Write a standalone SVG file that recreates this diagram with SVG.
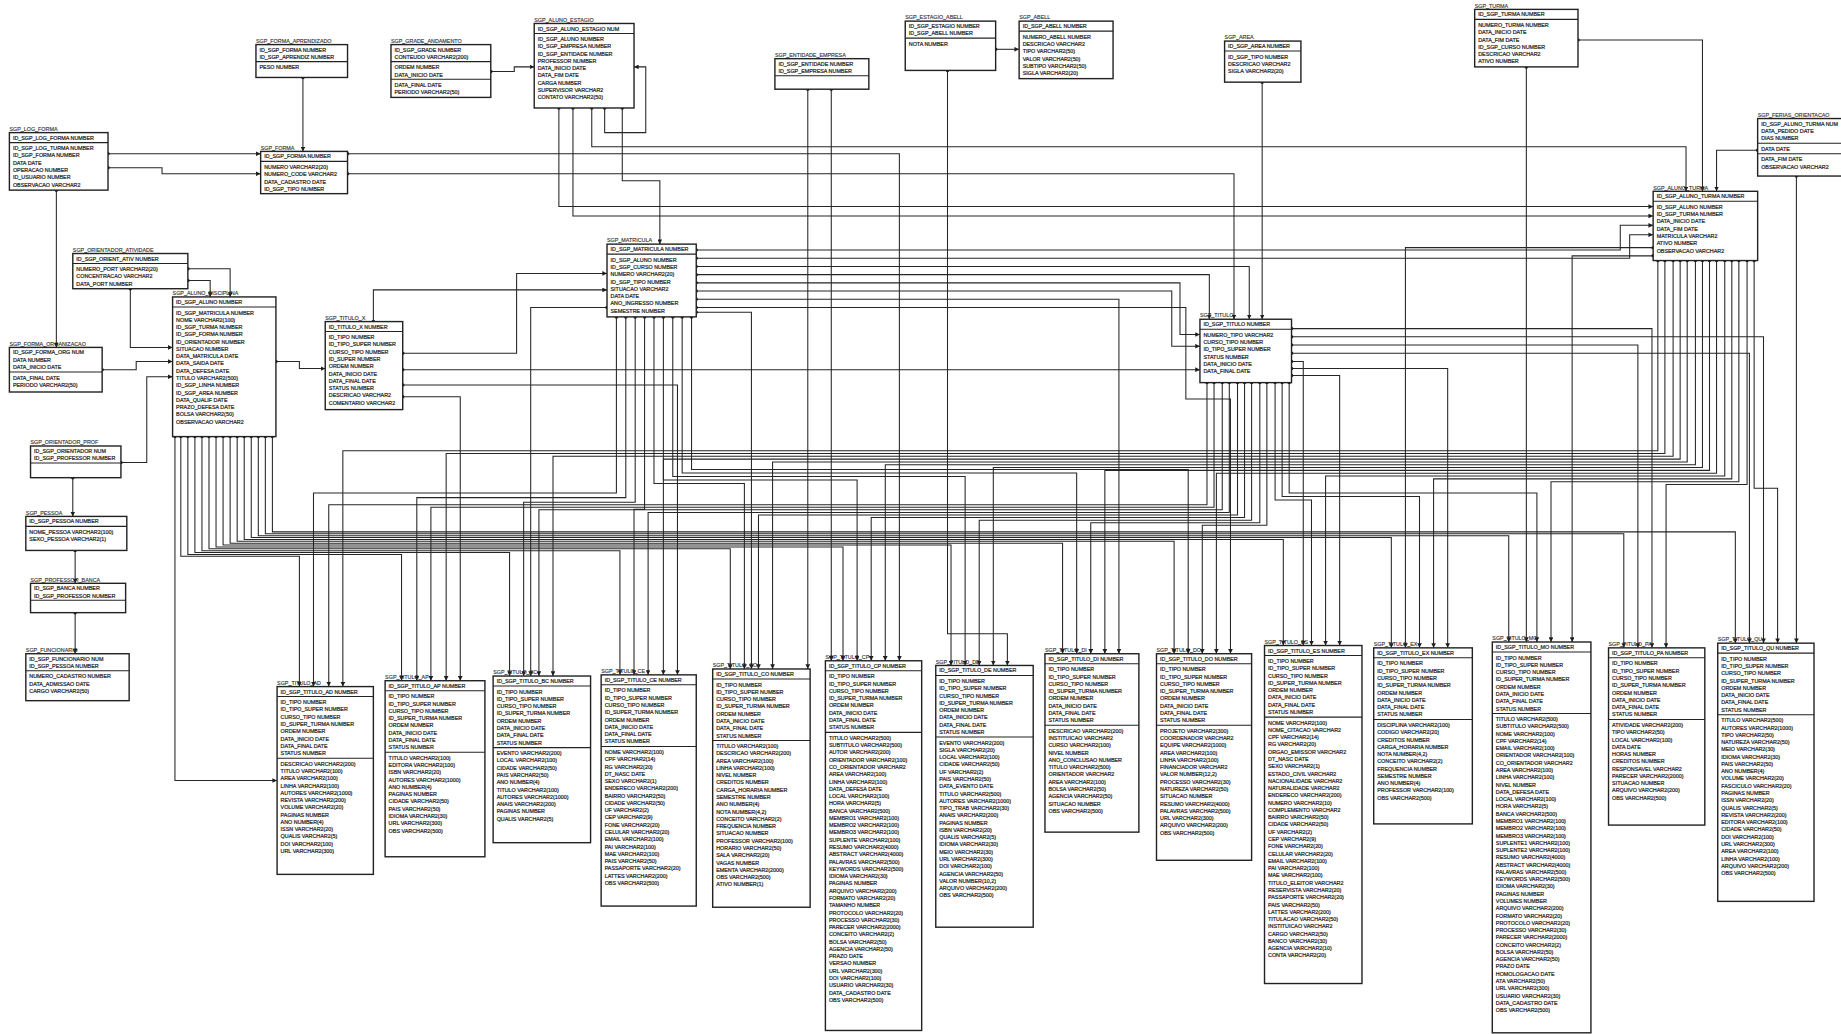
<svg xmlns="http://www.w3.org/2000/svg" width="1841" height="1034" viewBox="0 0 1841 1034">
<defs>
<style>
.bx{fill:#fff;stroke:#222;stroke-width:1.2}
.sp{stroke:#222;stroke-width:.9}
.t{font-family:"Liberation Sans",Arial,sans-serif;font-size:4.6px;fill:#333;stroke:#333;stroke-width:.12}
.r{font-family:"Liberation Sans",Arial,sans-serif;font-size:4.6px;fill:#1e1e1e;stroke:#1e1e1e;stroke-width:.18}
#connectors path{fill:none;stroke:#262626;stroke-width:.9;marker-start:url(#dot);marker-end:url(#arr)}
</style>
<marker id="dot" markerUnits="userSpaceOnUse" markerWidth="4" markerHeight="4" refX="2" refY="2"><circle cx="2" cy="2" r="1.5" fill="#1e1e1e"/></marker>
<marker id="arr" markerUnits="userSpaceOnUse" markerWidth="4" markerHeight="4" refX="4" refY="2" orient="auto"><path d="M0,0L4,2L0,4z" fill="#1e1e1e"/></marker>
</defs>
<rect width="1841" height="1034" fill="#fff"/>
<g transform="scale(1.17411 1.17366)">
<g id="connectors">
<path d="M258 66V129"/>
<path d="M92 131H222"/>
<path d="M296 131H766V563"/>
<path d="M92 143H138V148H222"/>
<path d="M296 148H1051V272"/>
<path d="M418 61H438V57H455"/>
<path d="M515 92V113H550V57H540"/>
<path d="M848 42H868"/>
<path d="M1344 34H1450V163"/>
<path d="M1497 128H1462V163"/>
<path d="M504 92V125H1436V163"/>
<path d="M476 92V176H1408"/>
<path d="M488 92V184H1408"/>
<path d="M530 92V154H562V208"/>
<path d="M688 76V570"/>
<path d="M708 76V563"/>
<path d="M807 60V540H858V567"/>
<path d="M1075 70V272"/>
<path d="M1300 57V547"/>
<path d="M1530 150V548"/>
<path d="M48 162V296"/>
<path d="M160 229H196V253"/>
<path d="M160 239H179V253"/>
<path d="M111 246V296H147"/>
<path d="M87 315H116V308H147"/>
<path d="M103 394H125V321H147"/>
<path d="M62 407V440"/>
<path d="M64 469V497"/>
<path d="M64 522V557"/>
<path d="M235 308H255V314H277"/>
<path d="M318 274V247H517"/>
<path d="M343 301H440V233H517"/>
<path d="M517 262H452V576"/>
<path d="M343 315H1022"/>
<path d="M343 328H577V575"/>
<path d="M343 338H392V580"/>
<path d="M593 213H1380V192H1408"/>
<path d="M593 220H1388V200H1408"/>
<path d="M593 227H1064V272"/>
<path d="M593 234H1030V272"/>
<path d="M593 241H1005V285H1022"/>
<path d="M593 248H998V295H1022"/>
<path d="M593 255H953V557"/>
<path d="M593 262H1010V340H1048V557"/>
<path d="M593 266H640V570"/>
<path d="M1100 280H1407V552"/>
<path d="M1100 287H1502V548"/>
<path d="M1100 294H1395V552"/>
<path d="M1100 301H1490V548"/>
<path d="M1100 308H1110V550"/>
<path d="M1100 314H1233V552"/>
<path d="M1100 320H1141V550"/>
<path d="M1408 211H1197V552"/>
<path d="M1408 218H1339V547"/>
<path d="M154 372V474H255V585"/>
<path d="M160 372V472.4H342V580"/>
<path d="M166 372V470.8H434V576"/>
<path d="M172 372V469.2H528V575"/>
<path d="M178 372V467.6H622V570"/>
<path d="M184 372V466H718V563"/>
<path d="M190 372V464.4H810V567"/>
<path d="M196 372V462.8H905V557"/>
<path d="M202 372V461.2H1000V557"/>
<path d="M208 372V459.6H1093V550"/>
<path d="M214 372V458H1185V552"/>
<path d="M220 372V456.4H1285V547"/>
<path d="M226 372V454.8H1383V552"/>
<path d="M232 372V453.2H1478V548"/>
<path d="M149 372V665H236"/>
<path d="M525 270V420H267V585"/>
<path d="M533 270V424H355V580"/>
<path d="M541 270V428H446V576"/>
<path d="M549 270V434H540V575"/>
<path d="M557 270V412H634V570"/>
<path d="M565 270V409H730V563"/>
<path d="M573 270V406H822V567"/>
<path d="M581 270V403H917V557"/>
<path d="M589 270V400H1012V557"/>
<path d="M1028 326V430H280V585"/>
<path d="M1034 326V432.2H367V580"/>
<path d="M1041 326V434.4H459V576"/>
<path d="M1047 326V436.6H552V575"/>
<path d="M1054 326V438.8H646V570"/>
<path d="M1060 326V441H742V563"/>
<path d="M1066 326V443.2H834V567"/>
<path d="M1073 326V445.4H929V557"/>
<path d="M1079 326V447.6H1024V557"/>
<path d="M1086 326V426H1117V550"/>
<path d="M1092 326V423H1209V552"/>
<path d="M1098 326V420H1309V547"/>
<path d="M1412 222V384H292V585"/>
<path d="M1418 222V386.4H380V580"/>
<path d="M1425 222V388.8H471V576"/>
<path d="M1431 222V391.2H565V575"/>
<path d="M1437 222V393.6H658V570"/>
<path d="M1444 222V396H754V563"/>
<path d="M1450 222V398.4H846V567"/>
<path d="M1456 222V400.8H941V557"/>
<path d="M1462 222V403.2H1036V557"/>
<path d="M1469 222V405.6H1129V550"/>
<path d="M1475 222V408H1221V552"/>
<path d="M1481 222V410.4H1321V547"/>
<path d="M1488 222V412.8H1419V552"/>
<path d="M1494 222V416H1514V548"/>
</g>

<g id="sgp-forma-aprendizado" transform="translate(218,38)"><text class="t" y="-1.5">SGP_FORMA_APRENDIZADO</text><rect class="bx" width="78" height="28"/><line class="sp" x1="0" y1="14.5" x2="78" y2="14.5"/><text class="r"><tspan x="3" y="6">ID_SGP_FORMA NUMBER</tspan><tspan x="3" dy="6.2">ID_SGP_APRENDIZ NUMBER</tspan><tspan x="3" y="21">PESO NUMBER</tspan></text></g>
<g id="sgp-forma" transform="translate(222,129)"><text class="t" y="-1.5">SGP_FORMA</text><rect class="bx" width="74" height="36"/><line class="sp" x1="0" y1="8.5" x2="74" y2="8.5"/><text class="r"><tspan x="3" y="6">ID_SGP_FORMA NUMBER</tspan><tspan x="3" y="15">NUMERO VARCHAR2(20)</tspan><tspan x="3" dy="6.2">NUMERO_CODE VARCHAR2</tspan><tspan x="3" dy="6.2">DATA_CADASTRO DATE</tspan><tspan x="3" dy="6.2">ID_SGP_TIPO NUMBER</tspan></text></g>
<g id="sgp-log-forma" transform="translate(8,113)"><text class="t" y="-1.5">SGP_LOG_FORMA</text><rect class="bx" width="84" height="49"/><line class="sp" x1="0" y1="8.5" x2="84" y2="8.5"/><text class="r"><tspan x="3" y="6">ID_SGP_LOG_FORMA NUMBER</tspan><tspan x="3" y="15">ID_SGP_LOG_TURMA NUMBER</tspan><tspan x="3" dy="6.2">ID_SGP_FORMA NUMBER</tspan><tspan x="3" dy="6.2">DATA DATE</tspan><tspan x="3" dy="6.2">OPERACAO NUMBER</tspan><tspan x="3" dy="6.2">ID_USUARIO NUMBER</tspan><tspan x="3" dy="6.2">OBSERVACAO VARCHAR2</tspan></text></g>
<g id="sgp-grade-andamento" transform="translate(333,38)"><text class="t" y="-1.5">SGP_GRADE_ANDAMENTO</text><rect class="bx" width="85" height="45"/><line class="sp" x1="0" y1="14.5" x2="85" y2="14.5"/><line class="sp" x1="0" y1="29.5" x2="85" y2="29.5"/><text class="r"><tspan x="3" y="6">ID_SGP_GRADE NUMBER</tspan><tspan x="3" dy="6.2">CONTEUDO VARCHAR2(200)</tspan><tspan x="3" y="21">ORDEM NUMBER</tspan><tspan x="3" dy="6.2">DATA_INICIO DATE</tspan><tspan x="3" y="36">DATA_FINAL DATE</tspan><tspan x="3" dy="6.2">PERIODO VARCHAR2(50)</tspan></text></g>
<g id="sgp-aluno-estagio" transform="translate(455,20)"><text class="t" y="-1.5">SGP_ALUNO_ESTAGIO</text><rect class="bx" width="85" height="72"/><line class="sp" x1="0" y1="8.5" x2="85" y2="8.5"/><text class="r"><tspan x="3" y="6">ID_SGP_ALUNO_ESTAGIO NUM</tspan><tspan x="3" y="15">ID_SGP_ALUNO NUMBER</tspan><tspan x="3" dy="6.2">ID_SGP_EMPRESA NUMBER</tspan><tspan x="3" dy="6.2">ID_SGP_ENTIDADE NUMBER</tspan><tspan x="3" dy="6.2">PROFESSOR NUMBER</tspan><tspan x="3" dy="6.2">DATA_INICIO DATE</tspan><tspan x="3" dy="6.2">DATA_FIM DATE</tspan><tspan x="3" dy="6.2">CARGA NUMBER</tspan><tspan x="3" dy="6.2">SUPERVISOR VARCHAR2</tspan><tspan x="3" dy="6.2">CONTATO VARCHAR2(50)</tspan></text></g>
<g id="sgp-entidade-empresa" transform="translate(660,50)"><text class="t" y="-1.5">SGP_ENTIDADE_EMPRESA</text><rect class="bx" width="80" height="26"/><line class="sp" x1="0" y1="14.5" x2="80" y2="14.5"/><text class="r"><tspan x="3" y="6">ID_SGP_ENTIDADE NUMBER</tspan><tspan x="3" dy="6.2">ID_SGP_EMPRESA NUMBER</tspan></text></g>
<g id="sgp-estagio-abell" transform="translate(771,18)"><text class="t" y="-1.5">SGP_ESTAGIO_ABELL</text><rect class="bx" width="77" height="42"/><line class="sp" x1="0" y1="14.5" x2="77" y2="14.5"/><text class="r"><tspan x="3" y="6">ID_SGP_ESTAGIO NUMBER</tspan><tspan x="3" dy="6.2">ID_SGP_ABELL NUMBER</tspan><tspan x="3" y="21">NOTA NUMBER</tspan></text></g>
<g id="sgp-abell" transform="translate(868,18)"><text class="t" y="-1.5">SGP_ABELL</text><rect class="bx" width="80" height="49"/><line class="sp" x1="0" y1="8.5" x2="80" y2="8.5"/><text class="r"><tspan x="3" y="6">ID_SGP_ABELL NUMBER</tspan><tspan x="3" y="15">NUMERO_ABELL NUMBER</tspan><tspan x="3" dy="6.2">DESCRICAO VARCHAR2</tspan><tspan x="3" dy="6.2">TIPO VARCHAR2(50)</tspan><tspan x="3" dy="6.2">VALOR VARCHAR2(50)</tspan><tspan x="3" dy="6.2">SUBTIPO VARCHAR2(50)</tspan><tspan x="3" dy="6.2">SIGLA VARCHAR2(20)</tspan></text></g>
<g id="sgp-area" transform="translate(1043,35)"><text class="t" y="-1.5">SGP_AREA</text><rect class="bx" width="65" height="35"/><line class="sp" x1="0" y1="8.5" x2="65" y2="8.5"/><text class="r"><tspan x="3" y="6">ID_SGP_AREA NUMBER</tspan><tspan x="3" y="15">ID_SGP_TIPO NUMBER</tspan><tspan x="3" dy="6.2">DESCRICAO VARCHAR2</tspan><tspan x="3" dy="6.2">SIGLA VARCHAR2(20)</tspan></text></g>
<g id="sgp-turma" transform="translate(1256,8)"><text class="t" y="-1.5">SGP_TURMA</text><rect class="bx" width="88" height="49"/><line class="sp" x1="0" y1="8.5" x2="88" y2="8.5"/><text class="r"><tspan x="3" y="6">ID_SGP_TURMA NUMBER</tspan><tspan x="3" y="15">NUMERO_TURMA NUMBER</tspan><tspan x="3" dy="6.2">DATA_INICIO DATE</tspan><tspan x="3" dy="6.2">DATA_FIM DATE</tspan><tspan x="3" dy="6.2">ID_SGP_CURSO NUMBER</tspan><tspan x="3" dy="6.2">DESCRICAO VARCHAR2</tspan><tspan x="3" dy="6.2">ATIVO NUMBER</tspan></text></g>
<g id="sgp-ferias-orientacao" transform="translate(1497,101)"><text class="t" y="-1.5">SGP_FERIAS_ORIENTACAO</text><rect class="bx" width="80" height="49"/><line class="sp" x1="0" y1="21" x2="80" y2="21"/><line class="sp" x1="0" y1="30" x2="80" y2="30"/><text class="r"><tspan x="3" y="6">ID_SGP_ALUNO_TURMA NUM</tspan><tspan x="3" dy="6.2">DATA_PEDIDO DATE</tspan><tspan x="3" dy="6.2">DIAS NUMBER</tspan><tspan x="3" y="27.4">DATA DATE</tspan><tspan x="3" y="36.4">DATA_FIM DATE</tspan><tspan x="3" dy="6.2">OBSERVACAO VARCHAR2</tspan></text></g>
<g id="sgp-aluno-turma" transform="translate(1408,163)"><text class="t" y="-1.5">SGP_ALUNO_TURMA</text><rect class="bx" width="89" height="59"/><line class="sp" x1="0" y1="8.5" x2="89" y2="8.5"/><text class="r"><tspan x="3" y="6">ID_SGP_ALUNO_TURMA NUMBER</tspan><tspan x="3" y="15">ID_SGP_ALUNO NUMBER</tspan><tspan x="3" dy="6.2">ID_SGP_TURMA NUMBER</tspan><tspan x="3" dy="6.2">DATA_INICIO DATE</tspan><tspan x="3" dy="6.2">DATA_FIM DATE</tspan><tspan x="3" dy="6.2">MATRICULA VARCHAR2</tspan><tspan x="3" dy="6.2">ATIVO NUMBER</tspan><tspan x="3" dy="6.2">OBSERVACAO VARCHAR2</tspan></text></g>
<g id="sgp-orientador-atividade" transform="translate(62,216)"><text class="t" y="-1.5">SGP_ORIENTADOR_ATIVIDADE</text><rect class="bx" width="98" height="30"/><line class="sp" x1="0" y1="8.5" x2="98" y2="8.5"/><text class="r"><tspan x="3" y="6">ID_SGP_ORIENT_ATIV NUMBER</tspan><tspan x="3" y="15">NUMERO_PORT VARCHAR2(20)</tspan><tspan x="3" dy="6.2">CONCENTRACAO VARCHAR2</tspan><tspan x="3" dy="6.2">DATA_PORT NUMBER</tspan></text></g>
<g id="sgp-forma-organizacao" transform="translate(8,296)"><text class="t" y="-1.5">SGP_FORMA_ORGANIZACAO</text><rect class="bx" width="79" height="38"/><line class="sp" x1="0" y1="21" x2="79" y2="21"/><text class="r"><tspan x="3" y="6">ID_SGP_FORMA_ORG NUM</tspan><tspan x="3" dy="6.2">DATA NUMBER</tspan><tspan x="3" dy="6.2">DATA_INICIO DATE</tspan><tspan x="3" y="27.4">DATA_FINAL DATE</tspan><tspan x="3" dy="6.2">PERIODO VARCHAR2(50)</tspan></text></g>
<g id="sgp-aluno-disciplina" transform="translate(147,253)"><text class="t" y="-1.5">SGP_ALUNO_DISCIPLINA</text><rect class="bx" width="88" height="119"/><line class="sp" x1="0" y1="8.5" x2="88" y2="8.5"/><text class="r"><tspan x="3" y="6">ID_SGP_ALUNO NUMBER</tspan><tspan x="3" y="15">ID_SGP_MATRICULA NUMBER</tspan><tspan x="3" dy="6.2">NOME VARCHAR2(100)</tspan><tspan x="3" dy="6.2">ID_SGP_TURMA NUMBER</tspan><tspan x="3" dy="6.2">ID_SGP_FORMA NUMBER</tspan><tspan x="3" dy="6.2">ID_ORIENTADOR NUMBER</tspan><tspan x="3" dy="6.2">SITUACAO NUMBER</tspan><tspan x="3" dy="6.2">DATA_MATRICULA DATE</tspan><tspan x="3" dy="6.2">DATA_SAIDA DATE</tspan><tspan x="3" dy="6.2">DATA_DEFESA DATE</tspan><tspan x="3" dy="6.2">TITULO VARCHAR2(500)</tspan><tspan x="3" dy="6.2">ID_SGP_LINHA NUMBER</tspan><tspan x="3" dy="6.2">ID_SGP_AREA NUMBER</tspan><tspan x="3" dy="6.2">DATA_QUALIF DATE</tspan><tspan x="3" dy="6.2">PRAZO_DEFESA DATE</tspan><tspan x="3" dy="6.2">BOLSA VARCHAR2(50)</tspan><tspan x="3" dy="6.2">OBSERVACAO VARCHAR2</tspan></text></g>
<g id="sgp-titulo-x" transform="translate(277,274)"><text class="t" y="-1.5">SGP_TITULO_X</text><rect class="bx" width="66" height="75"/><line class="sp" x1="0" y1="8.5" x2="66" y2="8.5"/><text class="r"><tspan x="3" y="6">ID_TITULO_X NUMBER</tspan><tspan x="3" y="15">ID_TIPO NUMBER</tspan><tspan x="3" dy="6.2">ID_TIPO_SUPER NUMBER</tspan><tspan x="3" dy="6.2">CURSO_TIPO NUMBER</tspan><tspan x="3" dy="6.2">ID_SUPER NUMBER</tspan><tspan x="3" dy="6.2">ORDEM NUMBER</tspan><tspan x="3" dy="6.2">DATA_INICIO DATE</tspan><tspan x="3" dy="6.2">DATA_FINAL DATE</tspan><tspan x="3" dy="6.2">STATUS NUMBER</tspan><tspan x="3" dy="6.2">DESCRICAO VARCHAR2</tspan><tspan x="3" dy="6.2">COMENTARIO VARCHAR2</tspan></text></g>
<g id="sgp-matricula" transform="translate(517,208)"><text class="t" y="-1.5">SGP_MATRICULA</text><rect class="bx" width="76" height="62"/><line class="sp" x1="0" y1="8.5" x2="76" y2="8.5"/><text class="r"><tspan x="3" y="6">ID_SGP_MATRICULA NUMBER</tspan><tspan x="3" y="15">ID_SGP_ALUNO NUMBER</tspan><tspan x="3" dy="6.2">ID_SGP_CURSO NUMBER</tspan><tspan x="3" dy="6.2">NUMERO VARCHAR2(20)</tspan><tspan x="3" dy="6.2">ID_SGP_TIPO NUMBER</tspan><tspan x="3" dy="6.2">SITUACAO VARCHAR2</tspan><tspan x="3" dy="6.2">DATA DATE</tspan><tspan x="3" dy="6.2">ANO_INGRESSO NUMBER</tspan><tspan x="3" dy="6.2">SEMESTRE NUMBER</tspan></text></g>
<g id="sgp-titulo" transform="translate(1022,272)"><text class="t" y="-1.5">SGP_TITULO</text><rect class="bx" width="78" height="54"/><line class="sp" x1="0" y1="8.5" x2="78" y2="8.5"/><text class="r"><tspan x="3" y="6">ID_SGP_TITULO NUMBER</tspan><tspan x="3" y="15">NUMERO_TIPO VARCHAR2</tspan><tspan x="3" dy="6.2">CURSO_TIPO NUMBER</tspan><tspan x="3" dy="6.2">ID_TIPO_SUPER NUMBER</tspan><tspan x="3" dy="6.2">STATUS NUMBER</tspan><tspan x="3" dy="6.2">DATA_INICIO DATE</tspan><tspan x="3" dy="6.2">DATA_FINAL DATE</tspan></text></g>
<g id="sgp-orientador-prof" transform="translate(26,380)"><text class="t" y="-1.5">SGP_ORIENTADOR_PROF</text><rect class="bx" width="77" height="27"/><line class="sp" x1="0" y1="14.5" x2="77" y2="14.5"/><text class="r"><tspan x="3" y="6">ID_SGP_ORIENTADOR NUM</tspan><tspan x="3" dy="6.2">ID_SGP_PROFESSOR NUMBER</tspan></text></g>
<g id="sgp-pessoa" transform="translate(22,440)"><text class="t" y="-1.5">SGP_PESSOA</text><rect class="bx" width="86" height="29"/><line class="sp" x1="0" y1="8.5" x2="86" y2="8.5"/><text class="r"><tspan x="3" y="6">ID_SGP_PESSOA NUMBER</tspan><tspan x="3" y="15">NOME_PESSOA VARCHAR2(100)</tspan><tspan x="3" dy="6.2">SEXO_PESSOA VARCHAR2(1)</tspan></text></g>
<g id="sgp-professor-banca" transform="translate(26,497)"><text class="t" y="-1.5">SGP_PROFESSOR_BANCA</text><rect class="bx" width="81" height="25"/><line class="sp" x1="0" y1="14.5" x2="81" y2="14.5"/><text class="r"><tspan x="3" y="6">ID_SGP_BANCA NUMBER</tspan><tspan x="3" dy="6.2">ID_SGP_PROFESSOR NUMBER</tspan></text></g>
<g id="sgp-funcionario" transform="translate(22,557)"><text class="t" y="-1.5">SGP_FUNCIONARIO</text><rect class="bx" width="88" height="40"/><line class="sp" x1="0" y1="14.5" x2="88" y2="14.5"/><text class="r"><tspan x="3" y="6">ID_SGP_FUNCIONARIO NUM</tspan><tspan x="3" dy="6.2">ID_SGP_PESSOA NUMBER</tspan><tspan x="3" y="21">NUMERO_CADASTRO NUMBER</tspan><tspan x="3" dy="6.2">DATA_ADMISSAO DATE</tspan><tspan x="3" dy="6.2">CARGO VARCHAR2(50)</tspan></text></g>

<g id="sgp-titulo-ad" transform="translate(236,585)"><text class="t" y="-1.5">SGP_TITULO_AD</text><rect class="bx" width="82" height="160"/><line class="sp" x1="0" y1="8.5" x2="82" y2="8.5"/><line class="sp" x1="0" y1="61" x2="82" y2="61"/><text class="r"><tspan x="3" y="6">ID_SGP_TITULO_AD NUMBER</tspan><tspan x="3" y="15">ID_TIPO NUMBER</tspan><tspan x="3" dy="6.2">ID_TIPO_SUPER NUMBER</tspan><tspan x="3" dy="6.2">CURSO_TIPO NUMBER</tspan><tspan x="3" dy="6.2">ID_SUPER_TURMA NUMBER</tspan><tspan x="3" dy="6.2">ORDEM NUMBER</tspan><tspan x="3" dy="6.2">DATA_INICIO DATE</tspan><tspan x="3" dy="6.2">DATA_FINAL DATE</tspan><tspan x="3" dy="6.2">STATUS NUMBER</tspan><tspan x="3" y="67.4">DESCRICAO VARCHAR2(200)</tspan><tspan x="3" dy="6.2">TITULO VARCHAR2(100)</tspan><tspan x="3" dy="6.2">AREA VARCHAR2(100)</tspan><tspan x="3" dy="6.2">LINHA VARCHAR2(100)</tspan><tspan x="3" dy="6.2">AUTORES VARCHAR2(1000)</tspan><tspan x="3" dy="6.2">REVISTA VARCHAR2(200)</tspan><tspan x="3" dy="6.2">VOLUME VARCHAR2(20)</tspan><tspan x="3" dy="6.2">PAGINAS NUMBER</tspan><tspan x="3" dy="6.2">ANO NUMBER(4)</tspan><tspan x="3" dy="6.2">ISSN VARCHAR2(20)</tspan><tspan x="3" dy="6.2">QUALIS VARCHAR2(5)</tspan><tspan x="3" dy="6.2">DOI VARCHAR2(100)</tspan><tspan x="3" dy="6.2">URL VARCHAR2(300)</tspan></text></g>
<g id="sgp-titulo-ap" transform="translate(328,580)"><text class="t" y="-1.5">SGP_TITULO_AP</text><rect class="bx" width="85" height="150"/><line class="sp" x1="0" y1="8.5" x2="85" y2="8.5"/><line class="sp" x1="0" y1="61" x2="85" y2="61"/><text class="r"><tspan x="3" y="6">ID_SGP_TITULO_AP NUMBER</tspan><tspan x="3" y="15">ID_TIPO NUMBER</tspan><tspan x="3" dy="6.2">ID_TIPO_SUPER NUMBER</tspan><tspan x="3" dy="6.2">CURSO_TIPO NUMBER</tspan><tspan x="3" dy="6.2">ID_SUPER_TURMA NUMBER</tspan><tspan x="3" dy="6.2">ORDEM NUMBER</tspan><tspan x="3" dy="6.2">DATA_INICIO DATE</tspan><tspan x="3" dy="6.2">DATA_FINAL DATE</tspan><tspan x="3" dy="6.2">STATUS NUMBER</tspan><tspan x="3" y="67.4">TITULO VARCHAR2(100)</tspan><tspan x="3" dy="6.2">EDITORA VARCHAR2(100)</tspan><tspan x="3" dy="6.2">ISBN VARCHAR2(20)</tspan><tspan x="3" dy="6.2">AUTORES VARCHAR2(1000)</tspan><tspan x="3" dy="6.2">ANO NUMBER(4)</tspan><tspan x="3" dy="6.2">PAGINAS NUMBER</tspan><tspan x="3" dy="6.2">CIDADE VARCHAR2(50)</tspan><tspan x="3" dy="6.2">PAIS VARCHAR2(50)</tspan><tspan x="3" dy="6.2">IDIOMA VARCHAR2(30)</tspan><tspan x="3" dy="6.2">URL VARCHAR2(300)</tspan><tspan x="3" dy="6.2">OBS VARCHAR2(500)</tspan></text></g>
<g id="sgp-titulo-bc" transform="translate(420,576)"><text class="t" y="-1.5">SGP_TITULO_BC</text><rect class="bx" width="83" height="142"/><line class="sp" x1="0" y1="8.5" x2="83" y2="8.5"/><line class="sp" x1="0" y1="61" x2="83" y2="61"/><text class="r"><tspan x="3" y="6">ID_SGP_TITULO_BC NUMBER</tspan><tspan x="3" y="15">ID_TIPO NUMBER</tspan><tspan x="3" dy="6.2">ID_TIPO_SUPER NUMBER</tspan><tspan x="3" dy="6.2">CURSO_TIPO NUMBER</tspan><tspan x="3" dy="6.2">ID_SUPER_TURMA NUMBER</tspan><tspan x="3" dy="6.2">ORDEM NUMBER</tspan><tspan x="3" dy="6.2">DATA_INICIO DATE</tspan><tspan x="3" dy="6.2">DATA_FINAL DATE</tspan><tspan x="3" dy="6.2">STATUS NUMBER</tspan><tspan x="3" y="67.4">EVENTO VARCHAR2(200)</tspan><tspan x="3" dy="6.2">LOCAL VARCHAR2(100)</tspan><tspan x="3" dy="6.2">CIDADE VARCHAR2(50)</tspan><tspan x="3" dy="6.2">PAIS VARCHAR2(50)</tspan><tspan x="3" dy="6.2">ANO NUMBER(4)</tspan><tspan x="3" dy="6.2">TITULO VARCHAR2(100)</tspan><tspan x="3" dy="6.2">AUTORES VARCHAR2(1000)</tspan><tspan x="3" dy="6.2">ANAIS VARCHAR2(200)</tspan><tspan x="3" dy="6.2">PAGINAS NUMBER</tspan><tspan x="3" dy="6.2">QUALIS VARCHAR2(5)</tspan></text></g>
<g id="sgp-titulo-ce" transform="translate(512,575)"><text class="t" y="-1.5">SGP_TITULO_CE</text><rect class="bx" width="81" height="197"/><line class="sp" x1="0" y1="8.5" x2="81" y2="8.5"/><line class="sp" x1="0" y1="61" x2="81" y2="61"/><text class="r"><tspan x="3" y="6">ID_SGP_TITULO_CE NUMBER</tspan><tspan x="3" y="15">ID_TIPO NUMBER</tspan><tspan x="3" dy="6.2">ID_TIPO_SUPER NUMBER</tspan><tspan x="3" dy="6.2">CURSO_TIPO NUMBER</tspan><tspan x="3" dy="6.2">ID_SUPER_TURMA NUMBER</tspan><tspan x="3" dy="6.2">ORDEM NUMBER</tspan><tspan x="3" dy="6.2">DATA_INICIO DATE</tspan><tspan x="3" dy="6.2">DATA_FINAL DATE</tspan><tspan x="3" dy="6.2">STATUS NUMBER</tspan><tspan x="3" y="67.4">NOME VARCHAR2(100)</tspan><tspan x="3" dy="6.2">CPF VARCHAR2(14)</tspan><tspan x="3" dy="6.2">RG VARCHAR2(20)</tspan><tspan x="3" dy="6.2">DT_NASC DATE</tspan><tspan x="3" dy="6.2">SEXO VARCHAR2(1)</tspan><tspan x="3" dy="6.2">ENDERECO VARCHAR2(200)</tspan><tspan x="3" dy="6.2">BAIRRO VARCHAR2(50)</tspan><tspan x="3" dy="6.2">CIDADE VARCHAR2(50)</tspan><tspan x="3" dy="6.2">UF VARCHAR2(2)</tspan><tspan x="3" dy="6.2">CEP VARCHAR2(9)</tspan><tspan x="3" dy="6.2">FONE VARCHAR2(20)</tspan><tspan x="3" dy="6.2">CELULAR VARCHAR2(20)</tspan><tspan x="3" dy="6.2">EMAIL VARCHAR2(100)</tspan><tspan x="3" dy="6.2">PAI VARCHAR2(100)</tspan><tspan x="3" dy="6.2">MAE VARCHAR2(100)</tspan><tspan x="3" dy="6.2">PAIS VARCHAR2(50)</tspan><tspan x="3" dy="6.2">PASSAPORTE VARCHAR2(20)</tspan><tspan x="3" dy="6.2">LATTES VARCHAR2(200)</tspan><tspan x="3" dy="6.2">OBS VARCHAR2(500)</tspan></text></g>
<g id="sgp-titulo-co" transform="translate(607,570)"><text class="t" y="-1.5">SGP_TITULO_CO</text><rect class="bx" width="83" height="203"/><line class="sp" x1="0" y1="8.5" x2="83" y2="8.5"/><line class="sp" x1="0" y1="61" x2="83" y2="61"/><text class="r"><tspan x="3" y="6">ID_SGP_TITULO_CO NUMBER</tspan><tspan x="3" y="15">ID_TIPO NUMBER</tspan><tspan x="3" dy="6.2">ID_TIPO_SUPER NUMBER</tspan><tspan x="3" dy="6.2">CURSO_TIPO NUMBER</tspan><tspan x="3" dy="6.2">ID_SUPER_TURMA NUMBER</tspan><tspan x="3" dy="6.2">ORDEM NUMBER</tspan><tspan x="3" dy="6.2">DATA_INICIO DATE</tspan><tspan x="3" dy="6.2">DATA_FINAL DATE</tspan><tspan x="3" dy="6.2">STATUS NUMBER</tspan><tspan x="3" y="67.4">TITULO VARCHAR2(100)</tspan><tspan x="3" dy="6.2">DESCRICAO VARCHAR2(200)</tspan><tspan x="3" dy="6.2">AREA VARCHAR2(100)</tspan><tspan x="3" dy="6.2">LINHA VARCHAR2(100)</tspan><tspan x="3" dy="6.2">NIVEL NUMBER</tspan><tspan x="3" dy="6.2">CREDITOS NUMBER</tspan><tspan x="3" dy="6.2">CARGA_HORARIA NUMBER</tspan><tspan x="3" dy="6.2">SEMESTRE NUMBER</tspan><tspan x="3" dy="6.2">ANO NUMBER(4)</tspan><tspan x="3" dy="6.2">NOTA NUMBER(4,2)</tspan><tspan x="3" dy="6.2">CONCEITO VARCHAR2(2)</tspan><tspan x="3" dy="6.2">FREQUENCIA NUMBER</tspan><tspan x="3" dy="6.2">SITUACAO NUMBER</tspan><tspan x="3" dy="6.2">PROFESSOR VARCHAR2(100)</tspan><tspan x="3" dy="6.2">HORARIO VARCHAR2(50)</tspan><tspan x="3" dy="6.2">SALA VARCHAR2(20)</tspan><tspan x="3" dy="6.2">VAGAS NUMBER</tspan><tspan x="3" dy="6.2">EMENTA VARCHAR2(2000)</tspan><tspan x="3" dy="6.2">OBS VARCHAR2(500)</tspan><tspan x="3" dy="6.2">ATIVO NUMBER(1)</tspan></text></g>
<g id="sgp-titulo-cp" transform="translate(703,563)"><text class="t" y="-1.5">SGP_TITULO_CP</text><rect class="bx" width="82" height="315"/><line class="sp" x1="0" y1="8.5" x2="82" y2="8.5"/><line class="sp" x1="0" y1="61" x2="82" y2="61"/><text class="r"><tspan x="3" y="6">ID_SGP_TITULO_CP NUMBER</tspan><tspan x="3" y="15">ID_TIPO NUMBER</tspan><tspan x="3" dy="6.2">ID_TIPO_SUPER NUMBER</tspan><tspan x="3" dy="6.2">CURSO_TIPO NUMBER</tspan><tspan x="3" dy="6.2">ID_SUPER_TURMA NUMBER</tspan><tspan x="3" dy="6.2">ORDEM NUMBER</tspan><tspan x="3" dy="6.2">DATA_INICIO DATE</tspan><tspan x="3" dy="6.2">DATA_FINAL DATE</tspan><tspan x="3" dy="6.2">STATUS NUMBER</tspan><tspan x="3" y="67.4">TITULO VARCHAR2(500)</tspan><tspan x="3" dy="6.2">SUBTITULO VARCHAR2(500)</tspan><tspan x="3" dy="6.2">AUTOR VARCHAR2(200)</tspan><tspan x="3" dy="6.2">ORIENTADOR VARCHAR2(100)</tspan><tspan x="3" dy="6.2">CO_ORIENTADOR VARCHAR2</tspan><tspan x="3" dy="6.2">AREA VARCHAR2(100)</tspan><tspan x="3" dy="6.2">LINHA VARCHAR2(100)</tspan><tspan x="3" dy="6.2">DATA_DEFESA DATE</tspan><tspan x="3" dy="6.2">LOCAL VARCHAR2(100)</tspan><tspan x="3" dy="6.2">HORA VARCHAR2(5)</tspan><tspan x="3" dy="6.2">BANCA VARCHAR2(500)</tspan><tspan x="3" dy="6.2">MEMBRO1 VARCHAR2(100)</tspan><tspan x="3" dy="6.2">MEMBRO2 VARCHAR2(100)</tspan><tspan x="3" dy="6.2">MEMBRO3 VARCHAR2(100)</tspan><tspan x="3" dy="6.2">SUPLENTE VARCHAR2(100)</tspan><tspan x="3" dy="6.2">RESUMO VARCHAR2(4000)</tspan><tspan x="3" dy="6.2">ABSTRACT VARCHAR2(4000)</tspan><tspan x="3" dy="6.2">PALAVRAS VARCHAR2(500)</tspan><tspan x="3" dy="6.2">KEYWORDS VARCHAR2(500)</tspan><tspan x="3" dy="6.2">IDIOMA VARCHAR2(30)</tspan><tspan x="3" dy="6.2">PAGINAS NUMBER</tspan><tspan x="3" dy="6.2">ARQUIVO VARCHAR2(200)</tspan><tspan x="3" dy="6.2">FORMATO VARCHAR2(20)</tspan><tspan x="3" dy="6.2">TAMANHO NUMBER</tspan><tspan x="3" dy="6.2">PROTOCOLO VARCHAR2(20)</tspan><tspan x="3" dy="6.2">PROCESSO VARCHAR2(30)</tspan><tspan x="3" dy="6.2">PARECER VARCHAR2(2000)</tspan><tspan x="3" dy="6.2">CONCEITO VARCHAR2(2)</tspan><tspan x="3" dy="6.2">BOLSA VARCHAR2(50)</tspan><tspan x="3" dy="6.2">AGENCIA VARCHAR2(50)</tspan><tspan x="3" dy="6.2">PRAZO DATE</tspan><tspan x="3" dy="6.2">VERSAO NUMBER</tspan><tspan x="3" dy="6.2">URL VARCHAR2(300)</tspan><tspan x="3" dy="6.2">DOI VARCHAR2(100)</tspan><tspan x="3" dy="6.2">USUARIO VARCHAR2(30)</tspan><tspan x="3" dy="6.2">DATA_CADASTRO DATE</tspan><tspan x="3" dy="6.2">OBS VARCHAR2(500)</tspan></text></g>
<g id="sgp-titulo-de" transform="translate(797,567)"><text class="t" y="-1.5">SGP_TITULO_DE</text><rect class="bx" width="83" height="223"/><line class="sp" x1="0" y1="8.5" x2="83" y2="8.5"/><line class="sp" x1="0" y1="61" x2="83" y2="61"/><text class="r"><tspan x="3" y="6">ID_SGP_TITULO_DE NUMBER</tspan><tspan x="3" y="15">ID_TIPO NUMBER</tspan><tspan x="3" dy="6.2">ID_TIPO_SUPER NUMBER</tspan><tspan x="3" dy="6.2">CURSO_TIPO NUMBER</tspan><tspan x="3" dy="6.2">ID_SUPER_TURMA NUMBER</tspan><tspan x="3" dy="6.2">ORDEM NUMBER</tspan><tspan x="3" dy="6.2">DATA_INICIO DATE</tspan><tspan x="3" dy="6.2">DATA_FINAL DATE</tspan><tspan x="3" dy="6.2">STATUS NUMBER</tspan><tspan x="3" y="67.4">EVENTO VARCHAR2(200)</tspan><tspan x="3" dy="6.2">SIGLA VARCHAR2(20)</tspan><tspan x="3" dy="6.2">LOCAL VARCHAR2(100)</tspan><tspan x="3" dy="6.2">CIDADE VARCHAR2(50)</tspan><tspan x="3" dy="6.2">UF VARCHAR2(2)</tspan><tspan x="3" dy="6.2">PAIS VARCHAR2(50)</tspan><tspan x="3" dy="6.2">DATA_EVENTO DATE</tspan><tspan x="3" dy="6.2">TITULO VARCHAR2(500)</tspan><tspan x="3" dy="6.2">AUTORES VARCHAR2(1000)</tspan><tspan x="3" dy="6.2">TIPO_TRAB VARCHAR2(30)</tspan><tspan x="3" dy="6.2">ANAIS VARCHAR2(200)</tspan><tspan x="3" dy="6.2">PAGINAS NUMBER</tspan><tspan x="3" dy="6.2">ISBN VARCHAR2(20)</tspan><tspan x="3" dy="6.2">QUALIS VARCHAR2(5)</tspan><tspan x="3" dy="6.2">IDIOMA VARCHAR2(30)</tspan><tspan x="3" dy="6.2">MEIO VARCHAR2(30)</tspan><tspan x="3" dy="6.2">URL VARCHAR2(300)</tspan><tspan x="3" dy="6.2">DOI VARCHAR2(100)</tspan><tspan x="3" dy="6.2">AGENCIA VARCHAR2(50)</tspan><tspan x="3" dy="6.2">VALOR NUMBER(10,2)</tspan><tspan x="3" dy="6.2">ARQUIVO VARCHAR2(200)</tspan><tspan x="3" dy="6.2">OBS VARCHAR2(500)</tspan></text></g>
<g id="sgp-titulo-di" transform="translate(890,557)"><text class="t" y="-1.5">SGP_TITULO_DI</text><rect class="bx" width="80" height="152"/><line class="sp" x1="0" y1="8.5" x2="80" y2="8.5"/><line class="sp" x1="0" y1="61" x2="80" y2="61"/><text class="r"><tspan x="3" y="6">ID_SGP_TITULO_DI NUMBER</tspan><tspan x="3" y="15">ID_TIPO NUMBER</tspan><tspan x="3" dy="6.2">ID_TIPO_SUPER NUMBER</tspan><tspan x="3" dy="6.2">CURSO_TIPO NUMBER</tspan><tspan x="3" dy="6.2">ID_SUPER_TURMA NUMBER</tspan><tspan x="3" dy="6.2">ORDEM NUMBER</tspan><tspan x="3" dy="6.2">DATA_INICIO DATE</tspan><tspan x="3" dy="6.2">DATA_FINAL DATE</tspan><tspan x="3" dy="6.2">STATUS NUMBER</tspan><tspan x="3" y="67.4">DESCRICAO VARCHAR2(200)</tspan><tspan x="3" dy="6.2">INSTITUICAO VARCHAR2</tspan><tspan x="3" dy="6.2">CURSO VARCHAR2(100)</tspan><tspan x="3" dy="6.2">NIVEL NUMBER</tspan><tspan x="3" dy="6.2">ANO_CONCLUSAO NUMBER</tspan><tspan x="3" dy="6.2">TITULO VARCHAR2(500)</tspan><tspan x="3" dy="6.2">ORIENTADOR VARCHAR2</tspan><tspan x="3" dy="6.2">AREA VARCHAR2(100)</tspan><tspan x="3" dy="6.2">BOLSA VARCHAR2(50)</tspan><tspan x="3" dy="6.2">AGENCIA VARCHAR2(50)</tspan><tspan x="3" dy="6.2">SITUACAO NUMBER</tspan><tspan x="3" dy="6.2">OBS VARCHAR2(500)</tspan></text></g>
<g id="sgp-titulo-do" transform="translate(985,557)"><text class="t" y="-1.5">SGP_TITULO_DO</text><rect class="bx" width="81" height="176"/><line class="sp" x1="0" y1="8.5" x2="81" y2="8.5"/><line class="sp" x1="0" y1="61" x2="81" y2="61"/><text class="r"><tspan x="3" y="6">ID_SGP_TITULO_DO NUMBER</tspan><tspan x="3" y="15">ID_TIPO NUMBER</tspan><tspan x="3" dy="6.2">ID_TIPO_SUPER NUMBER</tspan><tspan x="3" dy="6.2">CURSO_TIPO NUMBER</tspan><tspan x="3" dy="6.2">ID_SUPER_TURMA NUMBER</tspan><tspan x="3" dy="6.2">ORDEM NUMBER</tspan><tspan x="3" dy="6.2">DATA_INICIO DATE</tspan><tspan x="3" dy="6.2">DATA_FINAL DATE</tspan><tspan x="3" dy="6.2">STATUS NUMBER</tspan><tspan x="3" y="67.4">PROJETO VARCHAR2(300)</tspan><tspan x="3" dy="6.2">COORDENADOR VARCHAR2</tspan><tspan x="3" dy="6.2">EQUIPE VARCHAR2(1000)</tspan><tspan x="3" dy="6.2">AREA VARCHAR2(100)</tspan><tspan x="3" dy="6.2">LINHA VARCHAR2(100)</tspan><tspan x="3" dy="6.2">FINANCIADOR VARCHAR2</tspan><tspan x="3" dy="6.2">VALOR NUMBER(12,2)</tspan><tspan x="3" dy="6.2">PROCESSO VARCHAR2(30)</tspan><tspan x="3" dy="6.2">NATUREZA VARCHAR2(50)</tspan><tspan x="3" dy="6.2">SITUACAO NUMBER</tspan><tspan x="3" dy="6.2">RESUMO VARCHAR2(4000)</tspan><tspan x="3" dy="6.2">PALAVRAS VARCHAR2(500)</tspan><tspan x="3" dy="6.2">URL VARCHAR2(300)</tspan><tspan x="3" dy="6.2">ARQUIVO VARCHAR2(200)</tspan><tspan x="3" dy="6.2">OBS VARCHAR2(500)</tspan></text></g>
<g id="sgp-titulo-es" transform="translate(1077,550)"><text class="t" y="-1.5">SGP_TITULO_ES</text><rect class="bx" width="83" height="288"/><line class="sp" x1="0" y1="8.5" x2="83" y2="8.5"/><line class="sp" x1="0" y1="61" x2="83" y2="61"/><text class="r"><tspan x="3" y="6">ID_SGP_TITULO_ES NUMBER</tspan><tspan x="3" y="15">ID_TIPO NUMBER</tspan><tspan x="3" dy="6.2">ID_TIPO_SUPER NUMBER</tspan><tspan x="3" dy="6.2">CURSO_TIPO NUMBER</tspan><tspan x="3" dy="6.2">ID_SUPER_TURMA NUMBER</tspan><tspan x="3" dy="6.2">ORDEM NUMBER</tspan><tspan x="3" dy="6.2">DATA_INICIO DATE</tspan><tspan x="3" dy="6.2">DATA_FINAL DATE</tspan><tspan x="3" dy="6.2">STATUS NUMBER</tspan><tspan x="3" y="67.4">NOME VARCHAR2(100)</tspan><tspan x="3" dy="6.2">NOME_CITACAO VARCHAR2</tspan><tspan x="3" dy="6.2">CPF VARCHAR2(14)</tspan><tspan x="3" dy="6.2">RG VARCHAR2(20)</tspan><tspan x="3" dy="6.2">ORGAO_EMISSOR VARCHAR2</tspan><tspan x="3" dy="6.2">DT_NASC DATE</tspan><tspan x="3" dy="6.2">SEXO VARCHAR2(1)</tspan><tspan x="3" dy="6.2">ESTADO_CIVIL VARCHAR2</tspan><tspan x="3" dy="6.2">NACIONALIDADE VARCHAR2</tspan><tspan x="3" dy="6.2">NATURALIDADE VARCHAR2</tspan><tspan x="3" dy="6.2">ENDERECO VARCHAR2(200)</tspan><tspan x="3" dy="6.2">NUMERO VARCHAR2(10)</tspan><tspan x="3" dy="6.2">COMPLEMENTO VARCHAR2</tspan><tspan x="3" dy="6.2">BAIRRO VARCHAR2(50)</tspan><tspan x="3" dy="6.2">CIDADE VARCHAR2(50)</tspan><tspan x="3" dy="6.2">UF VARCHAR2(2)</tspan><tspan x="3" dy="6.2">CEP VARCHAR2(9)</tspan><tspan x="3" dy="6.2">FONE VARCHAR2(20)</tspan><tspan x="3" dy="6.2">CELULAR VARCHAR2(20)</tspan><tspan x="3" dy="6.2">EMAIL VARCHAR2(100)</tspan><tspan x="3" dy="6.2">PAI VARCHAR2(100)</tspan><tspan x="3" dy="6.2">MAE VARCHAR2(100)</tspan><tspan x="3" dy="6.2">TITULO_ELEITOR VARCHAR2</tspan><tspan x="3" dy="6.2">RESERVISTA VARCHAR2(20)</tspan><tspan x="3" dy="6.2">PASSAPORTE VARCHAR2(20)</tspan><tspan x="3" dy="6.2">PAIS VARCHAR2(50)</tspan><tspan x="3" dy="6.2">LATTES VARCHAR2(200)</tspan><tspan x="3" dy="6.2">TITULACAO VARCHAR2(50)</tspan><tspan x="3" dy="6.2">INSTITUICAO VARCHAR2</tspan><tspan x="3" dy="6.2">CARGO VARCHAR2(50)</tspan><tspan x="3" dy="6.2">BANCO VARCHAR2(30)</tspan><tspan x="3" dy="6.2">AGENCIA VARCHAR2(10)</tspan><tspan x="3" dy="6.2">CONTA VARCHAR2(20)</tspan></text></g>
<g id="sgp-titulo-ex" transform="translate(1170,552)"><text class="t" y="-1.5">SGP_TITULO_EX</text><rect class="bx" width="84" height="150"/><line class="sp" x1="0" y1="8.5" x2="84" y2="8.5"/><line class="sp" x1="0" y1="61" x2="84" y2="61"/><text class="r"><tspan x="3" y="6">ID_SGP_TITULO_EX NUMBER</tspan><tspan x="3" y="15">ID_TIPO NUMBER</tspan><tspan x="3" dy="6.2">ID_TIPO_SUPER NUMBER</tspan><tspan x="3" dy="6.2">CURSO_TIPO NUMBER</tspan><tspan x="3" dy="6.2">ID_SUPER_TURMA NUMBER</tspan><tspan x="3" dy="6.2">ORDEM NUMBER</tspan><tspan x="3" dy="6.2">DATA_INICIO DATE</tspan><tspan x="3" dy="6.2">DATA_FINAL DATE</tspan><tspan x="3" dy="6.2">STATUS NUMBER</tspan><tspan x="3" y="67.4">DISCIPLINA VARCHAR2(100)</tspan><tspan x="3" dy="6.2">CODIGO VARCHAR2(20)</tspan><tspan x="3" dy="6.2">CREDITOS NUMBER</tspan><tspan x="3" dy="6.2">CARGA_HORARIA NUMBER</tspan><tspan x="3" dy="6.2">NOTA NUMBER(4,2)</tspan><tspan x="3" dy="6.2">CONCEITO VARCHAR2(2)</tspan><tspan x="3" dy="6.2">FREQUENCIA NUMBER</tspan><tspan x="3" dy="6.2">SEMESTRE NUMBER</tspan><tspan x="3" dy="6.2">ANO NUMBER(4)</tspan><tspan x="3" dy="6.2">PROFESSOR VARCHAR2(100)</tspan><tspan x="3" dy="6.2">OBS VARCHAR2(500)</tspan></text></g>
<g id="sgp-titulo-mo" transform="translate(1271,547)"><text class="t" y="-1.5">SGP_TITULO_MO</text><rect class="bx" width="84" height="333"/><line class="sp" x1="0" y1="8.5" x2="84" y2="8.5"/><line class="sp" x1="0" y1="61" x2="84" y2="61"/><text class="r"><tspan x="3" y="6">ID_SGP_TITULO_MO NUMBER</tspan><tspan x="3" y="15">ID_TIPO NUMBER</tspan><tspan x="3" dy="6.2">ID_TIPO_SUPER NUMBER</tspan><tspan x="3" dy="6.2">CURSO_TIPO NUMBER</tspan><tspan x="3" dy="6.2">ID_SUPER_TURMA NUMBER</tspan><tspan x="3" dy="6.2">ORDEM NUMBER</tspan><tspan x="3" dy="6.2">DATA_INICIO DATE</tspan><tspan x="3" dy="6.2">DATA_FINAL DATE</tspan><tspan x="3" dy="6.2">STATUS NUMBER</tspan><tspan x="3" y="67.4">TITULO VARCHAR2(500)</tspan><tspan x="3" dy="6.2">SUBTITULO VARCHAR2(500)</tspan><tspan x="3" dy="6.2">NOME VARCHAR2(100)</tspan><tspan x="3" dy="6.2">CPF VARCHAR2(14)</tspan><tspan x="3" dy="6.2">EMAIL VARCHAR2(100)</tspan><tspan x="3" dy="6.2">ORIENTADOR VARCHAR2(100)</tspan><tspan x="3" dy="6.2">CO_ORIENTADOR VARCHAR2</tspan><tspan x="3" dy="6.2">AREA VARCHAR2(100)</tspan><tspan x="3" dy="6.2">LINHA VARCHAR2(100)</tspan><tspan x="3" dy="6.2">NIVEL NUMBER</tspan><tspan x="3" dy="6.2">DATA_DEFESA DATE</tspan><tspan x="3" dy="6.2">LOCAL VARCHAR2(100)</tspan><tspan x="3" dy="6.2">HORA VARCHAR2(5)</tspan><tspan x="3" dy="6.2">BANCA VARCHAR2(500)</tspan><tspan x="3" dy="6.2">MEMBRO1 VARCHAR2(100)</tspan><tspan x="3" dy="6.2">MEMBRO2 VARCHAR2(100)</tspan><tspan x="3" dy="6.2">MEMBRO3 VARCHAR2(100)</tspan><tspan x="3" dy="6.2">SUPLENTE1 VARCHAR2(100)</tspan><tspan x="3" dy="6.2">SUPLENTE2 VARCHAR2(100)</tspan><tspan x="3" dy="6.2">RESUMO VARCHAR2(4000)</tspan><tspan x="3" dy="6.2">ABSTRACT VARCHAR2(4000)</tspan><tspan x="3" dy="6.2">PALAVRAS VARCHAR2(500)</tspan><tspan x="3" dy="6.2">KEYWORDS VARCHAR2(500)</tspan><tspan x="3" dy="6.2">IDIOMA VARCHAR2(30)</tspan><tspan x="3" dy="6.2">PAGINAS NUMBER</tspan><tspan x="3" dy="6.2">VOLUMES NUMBER</tspan><tspan x="3" dy="6.2">ARQUIVO VARCHAR2(200)</tspan><tspan x="3" dy="6.2">FORMATO VARCHAR2(20)</tspan><tspan x="3" dy="6.2">PROTOCOLO VARCHAR2(20)</tspan><tspan x="3" dy="6.2">PROCESSO VARCHAR2(30)</tspan><tspan x="3" dy="6.2">PARECER VARCHAR2(2000)</tspan><tspan x="3" dy="6.2">CONCEITO VARCHAR2(2)</tspan><tspan x="3" dy="6.2">BOLSA VARCHAR2(50)</tspan><tspan x="3" dy="6.2">AGENCIA VARCHAR2(50)</tspan><tspan x="3" dy="6.2">PRAZO DATE</tspan><tspan x="3" dy="6.2">HOMOLOGACAO DATE</tspan><tspan x="3" dy="6.2">ATA VARCHAR2(50)</tspan><tspan x="3" dy="6.2">URL VARCHAR2(300)</tspan><tspan x="3" dy="6.2">USUARIO VARCHAR2(30)</tspan><tspan x="3" dy="6.2">DATA_CADASTRO DATE</tspan><tspan x="3" dy="6.2">OBS VARCHAR2(500)</tspan></text></g>
<g id="sgp-titulo-pa" transform="translate(1370,552)"><text class="t" y="-1.5">SGP_TITULO_PA</text><rect class="bx" width="82" height="151"/><line class="sp" x1="0" y1="8.5" x2="82" y2="8.5"/><line class="sp" x1="0" y1="61" x2="82" y2="61"/><text class="r"><tspan x="3" y="6">ID_SGP_TITULO_PA NUMBER</tspan><tspan x="3" y="15">ID_TIPO NUMBER</tspan><tspan x="3" dy="6.2">ID_TIPO_SUPER NUMBER</tspan><tspan x="3" dy="6.2">CURSO_TIPO NUMBER</tspan><tspan x="3" dy="6.2">ID_SUPER_TURMA NUMBER</tspan><tspan x="3" dy="6.2">ORDEM NUMBER</tspan><tspan x="3" dy="6.2">DATA_INICIO DATE</tspan><tspan x="3" dy="6.2">DATA_FINAL DATE</tspan><tspan x="3" dy="6.2">STATUS NUMBER</tspan><tspan x="3" y="67.4">ATIVIDADE VARCHAR2(200)</tspan><tspan x="3" dy="6.2">TIPO VARCHAR2(50)</tspan><tspan x="3" dy="6.2">LOCAL VARCHAR2(100)</tspan><tspan x="3" dy="6.2">DATA DATE</tspan><tspan x="3" dy="6.2">HORAS NUMBER</tspan><tspan x="3" dy="6.2">CREDITOS NUMBER</tspan><tspan x="3" dy="6.2">RESPONSAVEL VARCHAR2</tspan><tspan x="3" dy="6.2">PARECER VARCHAR2(2000)</tspan><tspan x="3" dy="6.2">SITUACAO NUMBER</tspan><tspan x="3" dy="6.2">ARQUIVO VARCHAR2(200)</tspan><tspan x="3" dy="6.2">OBS VARCHAR2(500)</tspan></text></g>
<g id="sgp-titulo-qu" transform="translate(1463,548)"><text class="t" y="-1.5">SGP_TITULO_QU</text><rect class="bx" width="82" height="220"/><line class="sp" x1="0" y1="8.5" x2="82" y2="8.5"/><line class="sp" x1="0" y1="61" x2="82" y2="61"/><text class="r"><tspan x="3" y="6">ID_SGP_TITULO_QU NUMBER</tspan><tspan x="3" y="15">ID_TIPO NUMBER</tspan><tspan x="3" dy="6.2">ID_TIPO_SUPER NUMBER</tspan><tspan x="3" dy="6.2">CURSO_TIPO NUMBER</tspan><tspan x="3" dy="6.2">ID_SUPER_TURMA NUMBER</tspan><tspan x="3" dy="6.2">ORDEM NUMBER</tspan><tspan x="3" dy="6.2">DATA_INICIO DATE</tspan><tspan x="3" dy="6.2">DATA_FINAL DATE</tspan><tspan x="3" dy="6.2">STATUS NUMBER</tspan><tspan x="3" y="67.4">TITULO VARCHAR2(500)</tspan><tspan x="3" dy="6.2">AUTORES VARCHAR2(1000)</tspan><tspan x="3" dy="6.2">TIPO VARCHAR2(50)</tspan><tspan x="3" dy="6.2">NATUREZA VARCHAR2(50)</tspan><tspan x="3" dy="6.2">MEIO VARCHAR2(30)</tspan><tspan x="3" dy="6.2">IDIOMA VARCHAR2(30)</tspan><tspan x="3" dy="6.2">PAIS VARCHAR2(50)</tspan><tspan x="3" dy="6.2">ANO NUMBER(4)</tspan><tspan x="3" dy="6.2">VOLUME VARCHAR2(20)</tspan><tspan x="3" dy="6.2">FASCICULO VARCHAR2(20)</tspan><tspan x="3" dy="6.2">PAGINAS NUMBER</tspan><tspan x="3" dy="6.2">ISSN VARCHAR2(20)</tspan><tspan x="3" dy="6.2">QUALIS VARCHAR2(5)</tspan><tspan x="3" dy="6.2">REVISTA VARCHAR2(200)</tspan><tspan x="3" dy="6.2">EDITORA VARCHAR2(100)</tspan><tspan x="3" dy="6.2">CIDADE VARCHAR2(50)</tspan><tspan x="3" dy="6.2">DOI VARCHAR2(100)</tspan><tspan x="3" dy="6.2">URL VARCHAR2(300)</tspan><tspan x="3" dy="6.2">AREA VARCHAR2(100)</tspan><tspan x="3" dy="6.2">LINHA VARCHAR2(100)</tspan><tspan x="3" dy="6.2">ARQUIVO VARCHAR2(200)</tspan><tspan x="3" dy="6.2">OBS VARCHAR2(500)</tspan></text></g>
</g>
</svg>
